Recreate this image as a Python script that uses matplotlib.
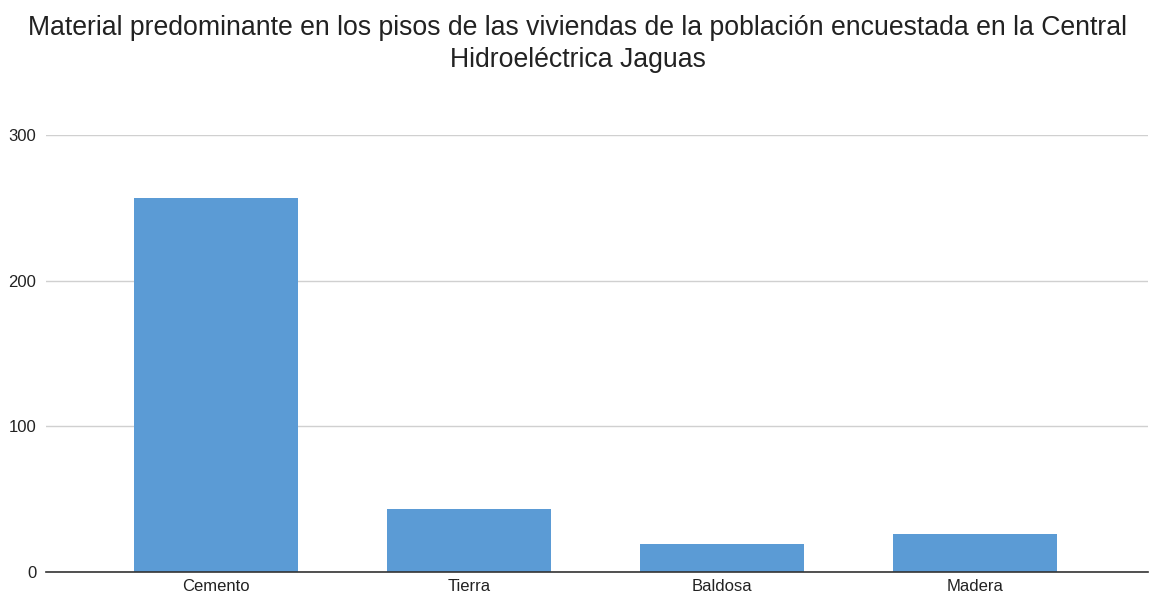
import matplotlib
matplotlib.use("Agg")
import matplotlib.pyplot as plt

plt.rcParams["font.family"] = ["Liberation Sans", "DejaVu Sans"]

categorias = ["Cemento", "Tierra", "Baldosa", "Madera"]
valores = [257, 43, 19, 26]
yticks = [0, 100, 200, 300]

fig = plt.figure(figsize=(11.55, 6.03), dpi=100)
ax = fig.add_axes([46/1155, 31/603, (1148-46)/1155, (572-135)/603])

x = list(range(len(categorias)))
ax.bar(x, valores, width=0.65, color="#5b9bd5", zorder=3)

ax.set_xlim(-0.672, 3.684)
ax.set_ylim(0, 300)
ax.set_yticks(yticks)
ax.set_xticks(x)
ax.set_xticklabels(categorias)
ax.tick_params(axis="both", length=0, labelsize=12, colors="#222222")
ax.tick_params(axis="y", pad=7)
ax.tick_params(axis="x", pad=5)
ax.grid(axis="y", color="#d0d0d0", lw=1, zorder=0)
for s in ["top", "right", "left"]:
    ax.spines[s].set_visible(False)
ax.spines["bottom"].set_color("#333333")
ax.spines["bottom"].set_linewidth(1.2)
ax.spines["bottom"].set_zorder(4)

fig.text(0.5, 1 - 44/603, "Material predominante en los pisos de las viviendas de la población encuestada en la Central\nHidroeléctrica Jaguas",
         ha="center", va="center", fontsize=19.2, color="#222222", linespacing=1.3)

fig.savefig("out.png", dpi=100)
